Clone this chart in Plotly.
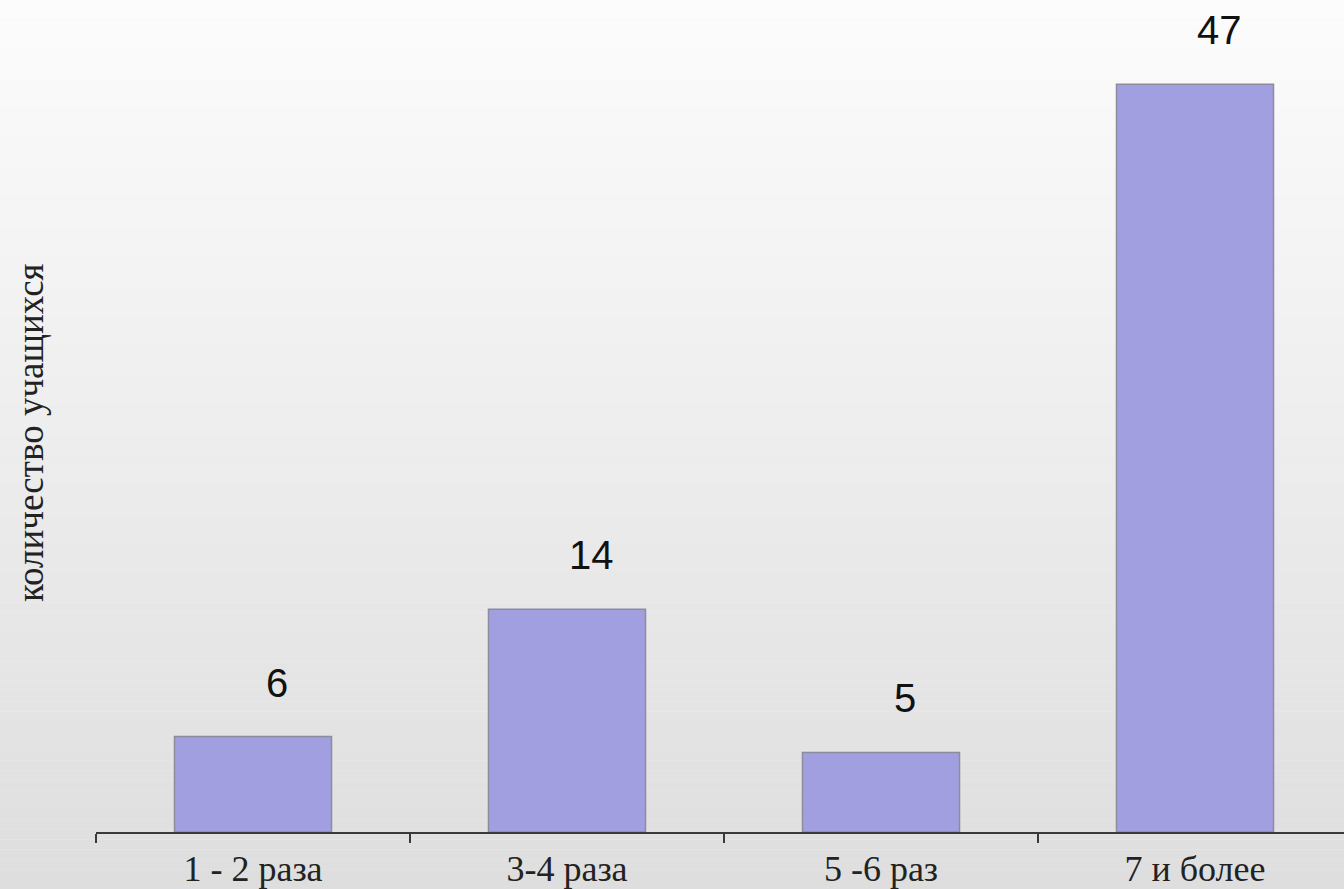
import plotly.graph_objects as go

# Survey results: how many times students answered, by frequency group
categories = ["1 - 2 раза", "3-4 раза", "5 -6 раз", "7 и более"]
counts = [6, 14, 5, 47]
y_axis_title = "количество учащихся"

W, H = 1344, 889
LEFT, BOTTOM = 96, 57
PX_PER_CAT = 314
PX_PER_UNIT = 15.91

plot_w = W - LEFT
plot_h = H - BOTTOM
x_end = -0.5 + plot_w / PX_PER_CAT
y_end = plot_h / PX_PER_UNIT

fig = go.Figure()

fig.add_trace(go.Bar(
    x=categories,
    y=counts,
    width=0.5,
    marker=dict(color="#a29fe0", line=dict(color="#8c8c9c", width=1.5)),
    hoverinfo="x+y",
))

# Value labels above each bar
for cat, val in zip(categories, counts):
    fig.add_annotation(
        x=cat, y=val, xref="x", yref="y",
        text=str(val), showarrow=False,
        xanchor="center", yanchor="middle", xshift=24, yshift=54,
        font=dict(family="Liberation Sans, Arial, sans-serif", size=40, color="#111111"),
    )

# Rotated axis title, placed in pixel terms relative to the plot area
fig.add_annotation(
    x=(30 - LEFT) / plot_w, y=(H - 433 - BOTTOM) / plot_h,
    xref="paper", yref="paper",
    xanchor="center", yanchor="middle",
    text=y_axis_title, showarrow=False, textangle=-90,
    font=dict(family="Liberation Serif, Times New Roman, serif", size=37, color="#222222"),
)

# Vertical background gradient (light at top, grey at bottom)
steps = 90
shapes = []
for i in range(steps):
    t = i / (steps - 1)
    c = round(252 - 30 * t)
    shapes.append(dict(
        type="rect", xref="paper", yref="paper", layer="below",
        x0=-0.2, x1=1.2,
        y0=1.0 - (i + 1) / steps * (H / plot_h),
        y1=1.0 - i / steps * (H / plot_h),
        fillcolor=f"rgb({c},{c},{c})", line=dict(width=0),
    ))
fig.update_layout(shapes=shapes)

fig.update_layout(
    width=W, height=H,
    margin=dict(l=LEFT, r=0, t=0, b=BOTTOM),
    paper_bgcolor="rgb(240,240,240)",
    plot_bgcolor="rgba(0,0,0,0)",
    showlegend=False,
    xaxis=dict(
        range=[-0.5, x_end],
        showline=True, linecolor="#3a3a3a", linewidth=2,
        ticks="outside", tickson="boundaries", ticklen=9, tickwidth=2, tickcolor="#3a3a3a",
        showgrid=False, zeroline=False,
        tickfont=dict(family="Liberation Serif, Times New Roman, serif", size=36, color="#222222"),
        ticklabelstandoff=4,
    ),
    yaxis=dict(
        range=[0, y_end],
        showline=False, showgrid=False, zeroline=False,
        showticklabels=False, ticks="",
    ),
)

fig.write_html("out.html")
